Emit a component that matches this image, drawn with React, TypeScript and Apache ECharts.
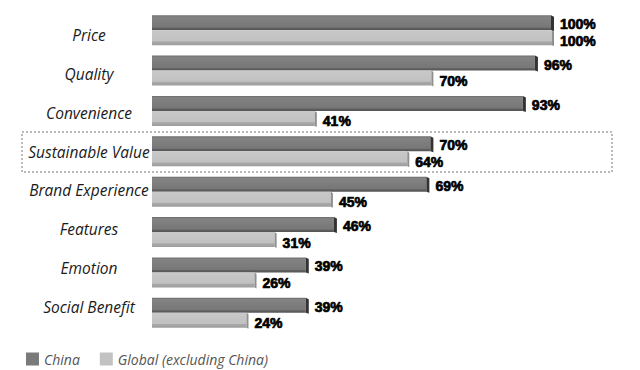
import React, { useEffect, useRef } from "react";
import * as echarts from "echarts";

const categories = [
  "Price",
  "Quality",
  "Convenience",
  "Sustainable Value",
  "Brand Experience",
  "Features",
  "Emotion",
  "Social Benefit",
];
const chinaValues = [100, 96, 93, 70, 69, 46, 39, 39];
const globalValues = [100, 70, 41, 64, 45, 31, 26, 24];
const seriesNames = ["China", "Global (excluding China)"];

const DARK = "#7a7a7a";
const LIGHT = "#c2c2c2";

function makeRender(isDark: boolean) {
  return (params: any, api: any) => {
    const cat = api.value(1);
    const v = api.value(0);
    const start = api.coord([0, cat]);
    const end = api.coord([v, cat]);
    const c = start[1];
    const h = 15;
    const y0 = isDark ? c - 15 : c;
    const x0 = start[0];
    const x1 = end[0];
    const children: any[] = [];
    if (isDark) {
      children.push({
        type: "rect",
        shape: { x: x0, y: y0, width: x1 - x0 - 3, height: h },
        style: {
          fill: new echarts.graphic.LinearGradient(0, 0, 0, 1, [
            { offset: 0, color: "#6c6c6c" },
            { offset: 0.12, color: "#838383" },
            { offset: 0.8, color: "#777777" },
            { offset: 0.88, color: "#5e5e5e" },
            { offset: 1, color: "#555555" },
          ]),
        },
      });
      children.push({
        type: "polygon",
        shape: {
          points: [
            [x1 - 3, y0],
            [x1, y0 + 1.5],
            [x1, y0 + h + 1],
            [x1 - 3, y0 + h],
          ],
        },
        style: { fill: "#333333" },
      });
    } else {
      children.push({
        type: "rect",
        shape: { x: x0, y: y0, width: x1 - x0 - 2, height: h },
        style: {
          fill: new echarts.graphic.LinearGradient(0, 0, 0, 1, [
            { offset: 0, color: "#c9c9c9" },
            { offset: 0.72, color: "#c1c1c1" },
            { offset: 0.78, color: "#a8a8a8" },
            { offset: 1, color: "#9d9d9d" },
          ]),
        },
      });
      children.push({
        type: "polygon",
        shape: {
          points: [
            [x1 - 2, y0],
            [x1, y0 + 1.5],
            [x1, y0 + h + 1],
            [x1 - 2, y0 + h],
          ],
        },
        style: { fill: "#8f8f8f" },
      });
    }
    children.push({
      type: "text",
      style: {
        x: x1 + 6,
        y: y0 + h / 2 + (isDark ? 1.5 : 3),
        text: v + "%",
        fill: "#000",
        stroke: "#000",
        lineWidth: 0.7,
        font: "bold 14px 'Liberation Sans'",
        verticalAlign: "middle",
        align: "left",
      },
    });
    return { type: "group", children };
  };
}

export default function App() {
  const ref = useRef<HTMLDivElement>(null);
  useEffect(() => {
    if (!ref.current) return;
    const chart = echarts.init(ref.current, null, { renderer: "svg" });
    chart.setOption({
      animation: false,
      backgroundColor: "#ffffff",
      grid: [
        { left: 152, right: 86, top: 10, bottom: 37 },
        { left: 152, right: 86, top: 15.5, bottom: 43.5 },
      ],
      xAxis: [
        { type: "value", min: 0, max: 100, show: false, gridIndex: 0 },
        { type: "value", min: 0, max: 100, show: false, gridIndex: 1 },
      ],
      yAxis: [
        {
          type: "category",
          gridIndex: 0,
          data: categories,
          inverse: true,
          show: false,
        },
        {
          type: "category",
          gridIndex: 1,
          data: categories,
          inverse: true,
          axisLine: { show: false },
          axisTick: { show: false },
          axisLabel: {
            align: "center",
            margin: 63,
            fontFamily: "Open Sans",
            fontStyle: "italic",
            fontSize: 15.5,
            color: "#1a1a1a",
          },
        },
      ],
      legend: {
        left: 26,
        bottom: 4,
        padding: 0,
        itemWidth: 13,
        itemHeight: 13,
        itemGap: 20,
        icon: "rect",
        textStyle: {
          fontFamily: "Open Sans",
          fontStyle: "italic",
          fontSize: 14,
          color: "#555",
        },
        data: seriesNames,
      },
      graphic: [
        {
          type: "rect",
          shape: { x: 22, y: 132, width: 590, height: 40 },
          style: { fill: "none", stroke: "#777", lineWidth: 1, lineDash: [2, 2] },
          z: -1,
        },
      ],
      series: [
        {
          name: seriesNames[0],
          type: "custom",
          itemStyle: { color: DARK },
          encode: { x: 0, y: 1 },
          data: chinaValues.map((v, i) => [v, i]),
          renderItem: makeRender(true),
        },
        {
          name: seriesNames[1],
          type: "custom",
          itemStyle: { color: LIGHT },
          encode: { x: 0, y: 1 },
          data: globalValues.map((v, i) => [v, i]),
          renderItem: makeRender(false),
        },
      ],
    });
    return () => chart.dispose();
  }, []);
  return (
    <div
      ref={ref}
      style={{ position: "fixed", left: 0, top: 0, width: 640, height: 370 }}
    />
  );
}
